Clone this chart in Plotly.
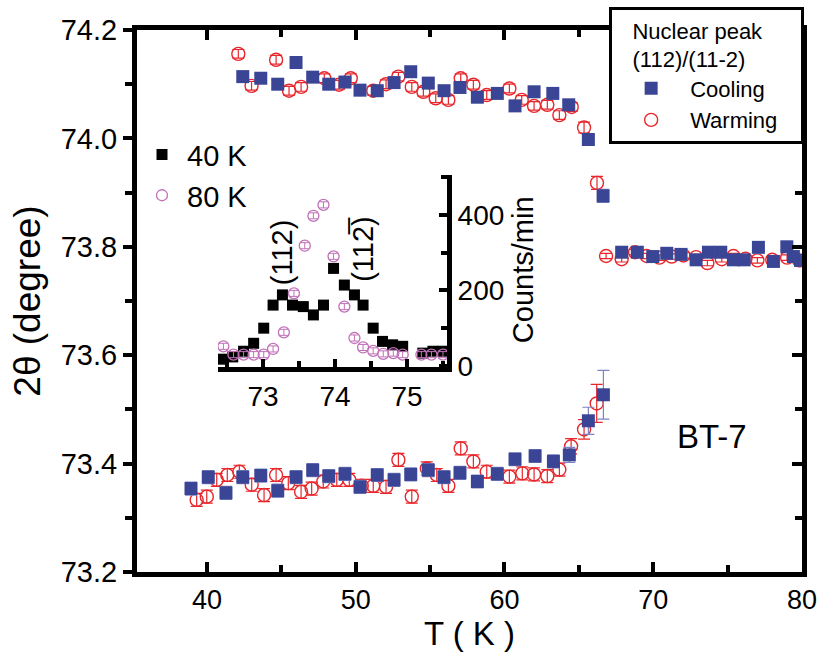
import plotly.graph_objects as go

# ---------------- main panel data ----------------
cool_T = [42.41, 43.62, 44.76, 45.99, 47.11, 48.19, 49.28, 50.29, 51.45, 52.58, 53.70,
          54.88, 55.94, 57.01, 58.18, 59.52, 60.71, 61.99, 63.25, 64.32, 65.64, 66.63,
          67.88, 68.93, 69.97, 70.91, 71.87, 72.88, 73.71, 74.54, 75.39, 76.11, 77.07,
          78.08, 78.98, 79.42, 79.90]
cool_2t = [74.114, 74.111, 74.100, 74.140, 74.113, 74.100, 74.104, 74.089, 74.088, 74.103,
           74.123, 74.102, 74.088, 74.094, 74.076, 74.083, 74.060, 74.086, 74.083, 74.062,
           73.998, 73.894, 73.790, 73.790, 73.782, 73.788, 73.786, 73.776, 73.790, 73.790,
           73.776, 73.776, 73.799, 73.773, 73.800, 73.782, 73.775]
cool_err = [0.008] * 20 + [0.010, 0.012] + [0.006] * 15

warm_T = [42.11, 43.00, 44.65, 45.52, 46.33, 47.89, 48.88, 49.67, 51.18, 52.04, 52.87,
          53.77, 54.55, 55.38, 56.23, 57.06, 57.91, 58.81, 60.33, 61.16, 61.99, 62.88,
          63.69, 64.52, 65.35, 66.22, 66.83, 67.88, 68.78, 69.56, 70.41, 71.24, 72.03,
          72.88, 73.64, 74.61, 75.39, 76.20, 77.00, 78.00, 79.00, 79.80]
warm_2t = [74.156, 74.097, 74.145, 74.088, 74.095, 74.111, 74.099, 74.111, 74.088, 74.100,
           74.114, 74.095, 74.086, 74.074, 74.071, 74.111, 74.099, 74.080, 74.092, 74.071,
           74.060, 74.062, 74.043, 74.058, 74.020, 73.918, 73.783, 73.777, 73.790, 73.783,
           73.780, 73.782, 73.784, 73.781, 73.770, 73.777, 73.783, 73.778, 73.775, 73.776,
           73.780, 73.775]
warm_err = [0.008] * 24 + [0.010, 0.012] + [0.005] * 16

cool_lo_T = [38.93, 40.09, 41.28, 42.41, 43.62, 44.76, 45.99, 47.11, 48.19, 49.28, 50.29,
             51.45, 52.58, 53.70, 54.88, 55.94, 57.01, 58.18, 59.52, 60.71, 62.06, 63.29,
             64.36, 65.64, 66.65]
cool_lo_2t = [73.354, 73.375, 73.346, 73.375, 73.378, 73.350, 73.375, 73.388, 73.377, 73.381,
              73.357, 73.379, 73.370, 73.380, 73.388, 73.375, 73.383, 73.367, 73.381, 73.408,
              73.414, 73.404, 73.416, 73.479, 73.527]
cool_lo_err = [0.012] * 22 + [0.014, 0.025, 0.045]

warm_lo_T = [39.31, 39.99, 40.66, 41.37, 42.18, 43.01, 43.84, 44.65, 45.47, 46.33, 47.04,
             47.82, 48.73, 49.57, 50.41, 51.18, 52.04, 52.87, 53.77, 54.78, 55.45, 56.23,
             57.06, 57.91, 58.81, 60.33, 61.20, 61.99, 62.88, 63.69, 64.48, 65.35, 66.20]
warm_lo_2t = [73.333, 73.339, 73.370, 73.379, 73.385, 73.361, 73.342, 73.379, 73.364, 73.348,
              73.354, 73.367, 73.370, 73.370, 73.359, 73.359, 73.357, 73.407, 73.339, 73.391,
              73.379, 73.359, 73.428, 73.404, 73.385, 73.376, 73.382, 73.380, 73.377, 73.389,
              73.432, 73.463, 73.511]
warm_lo_err = [0.012] * 30 + [0.014, 0.018, 0.035]

# ---------------- inset data ----------------
k40_2t = [72.45, 72.58, 72.73, 72.87, 73.01, 73.14, 73.27, 73.41, 73.56, 73.70, 73.84,
          73.98, 74.13, 74.27, 74.39, 74.53, 74.66, 74.80, 74.94, 75.22, 75.36, 75.50]
k40_cnt = [18, 24, 39, 60, 100, 161, 188, 161, 157, 135, 161, 258, 214, 188, 161, 100,
           65, 56, 52, 34, 39, 39]
k80_2t = [72.45, 72.59, 72.73, 72.87, 73.01, 73.14, 73.29, 73.43, 73.58, 73.70, 73.84,
          73.98, 74.13, 74.27, 74.39, 74.53, 74.67, 74.81, 74.94, 75.20, 75.34, 75.50]
k80_cnt = [52, 30, 30, 30, 30, 45, 89, 192, 318, 397, 426, 290, 157, 74, 49, 40, 32, 34,
           30, 30, 30, 30]
k80_err = [8] * 22

BLUE = "#3b4595"
BLUE_ERR = "#7c83c2"
RED = "#e8262b"
PURPLE = "#c071b8"
FONT = "Liberation Sans, Arial, sans-serif"
NB = "\u00a0"

fig = go.Figure()

# main panel traces
fig.add_trace(go.Scatter(x=warm_T, y=warm_2t, mode="markers", name="Warming" + NB * 3,
                         marker=dict(symbol="circle-open", size=13, color=RED, line=dict(width=1.4)),
                         error_y=dict(type="data", array=warm_err, color=RED, thickness=1.2, width=6),
                         legend="legend"))
fig.add_trace(go.Scatter(x=warm_lo_T, y=warm_lo_2t, mode="markers", name="Warming",
                         marker=dict(symbol="circle-open", size=13, color=RED, line=dict(width=1.4)),
                         error_y=dict(type="data", array=warm_lo_err, color=RED, thickness=1.2, width=6),
                         showlegend=False))
fig.add_trace(go.Scatter(x=cool_T, y=cool_2t, mode="markers", name="Cooling",
                         marker=dict(symbol="square", size=13, color=BLUE),
                         error_y=dict(type="data", array=cool_err, color=BLUE_ERR, thickness=1.2, width=6),
                         legend="legend"))
fig.add_trace(go.Scatter(x=cool_lo_T, y=cool_lo_2t, mode="markers", name="Cooling",
                         marker=dict(symbol="square", size=13, color=BLUE),
                         error_y=dict(type="data", array=cool_lo_err, color=BLUE_ERR, thickness=1.2, width=6),
                         showlegend=False))

# inset traces
fig.add_trace(go.Scatter(x=k40_2t, y=k40_cnt, mode="markers", name="40 K", xaxis="x2", yaxis="y2",
                         marker=dict(symbol="square", size=11, color="black"),
                         legend="legend2", legendgroup="a"))
fig.add_trace(go.Scatter(x=k80_2t, y=k80_cnt, mode="markers", name="80 K", xaxis="x2", yaxis="y2",
                         marker=dict(symbol="circle-open", size=11, color=PURPLE, line=dict(width=1.3)),
                         error_y=dict(type="data", array=k80_err, color=PURPLE, thickness=1, width=4),
                         legend="legend2", legendgroup="b"))

# dummy traces for mirrored tick axes
fig.add_trace(go.Scatter(x=[], y=[], xaxis="x3", yaxis="y", showlegend=False))
fig.add_trace(go.Scatter(x=[], y=[], xaxis="x", yaxis="y3", showlegend=False))

ax_common = dict(showgrid=False, zeroline=False, linecolor="black", linewidth=5,
                 tickcolor="black", tickwidth=3.5)
mnr = dict(tickcolor="black", tickwidth=3.5)

fig.update_layout(
    width=819, height=657,
    margin=dict(l=137, r=17, t=30, b=85, autoexpand=False),
    paper_bgcolor="white", plot_bgcolor="white",
    font=dict(family=FONT, color="black"),
    xaxis=dict(**ax_common, range=[35.3, 80], dtick=10, tick0=0, ticks="inside", ticklen=10,
               showline=True, mirror=True,
               minor=dict(dtick=5, ticks="inside", ticklen=7, **mnr),
               tickfont=dict(size=27, family=FONT),
               title=dict(text="T ( K )", font=dict(size=33, family=FONT), standoff=8),
               domain=[0, 1]),
    yaxis=dict(**ax_common, range=[73.2, 74.2], dtick=0.2, tick0=73.2, ticks="outside", ticklen=9,
               tickformat=".1f", showline=True, mirror=True,
               minor=dict(dtick=0.1, ticks="outside", ticklen=7, **mnr),
               tickfont=dict(size=29, family=FONT),
               title=dict(text="2θ (degree)", font=dict(size=37, family=FONT), standoff=10),
               domain=[0, 1]),
    xaxis3=dict(**ax_common, range=[35.3, 80], dtick=10, tick0=0, ticks="inside", ticklen=10,
                overlaying="x", side="top", anchor="y", showticklabels=False, showline=False,
                minor=dict(dtick=5, ticks="inside", ticklen=7, **mnr)),
    yaxis3=dict(**ax_common, range=[73.2, 74.2], dtick=0.2, tick0=73.2, ticks="inside", ticklen=10,
                overlaying="y", side="right", anchor="x", showticklabels=False, showline=False,
                minor=dict(dtick=0.1, ticks="inside", ticklen=7, **mnr)),
    xaxis2=dict(**ax_common, domain=[0.1218, 0.4662], anchor="y2", range=[72.375, 75.556],
                dtick=1, tick0=73, ticks="inside", ticklen=8, showline=True,
                minor=dict(dtick=0.5, ticks="inside", ticklen=6, **mnr),
                tickfont=dict(size=28, family=FONT)),
    yaxis2=dict(**ax_common, domain=[0.378, 0.7325], anchor="x2", side="right", range=[-3, 505],
                dtick=200, tick0=0, ticks="inside", ticklen=8, showline=True,
                minor=dict(dtick=100, ticks="inside", ticklen=6, **mnr),
                tickfont=dict(size=28, family=FONT)),
    legend=dict(x=0.71, y=1.042, xanchor="left", yanchor="top",
                bgcolor="white", bordercolor="black", borderwidth=3,
                font=dict(size=22, family=FONT), itemwidth=68,
                title=dict(text=NB * 3 + "Nuclear peak<br>" + NB * 3 + "(112)/(11-2)",
                           font=dict(size=22, family=FONT)),
                traceorder="reversed", tracegroupgap=0),
    legend2=dict(x=0.0, y=0.817, xanchor="left", yanchor="top", bgcolor="rgba(0,0,0,0)",
                 borderwidth=0, font=dict(size=29, family=FONT), itemwidth=40,
                 tracegroupgap=0),
)

# text annotations
fig.add_annotation(x=73.96, y=73.45, xref="x", yref="y", text="BT-7", showarrow=False,
                   font=dict(size=33, family=FONT))
fig.add_annotation(x=74.0, y=-127, xref="x2", yref="y2", text="2θ", showarrow=False,
                   font=dict(size=28, family=FONT))
fig.add_annotation(x=1.332, y=0.505, xref="x2 domain", yref="y2 domain", text="Counts/min",
                   xanchor="center", yanchor="middle",
                   showarrow=False, textangle=-90, font=dict(size=29, family=FONT))
fig.add_annotation(x=73.26, y=300, xref="x2", yref="y2", text="(112)", showarrow=False,
                   textangle=-90, font=dict(size=29, family=FONT))
fig.add_annotation(x=74.39, y=310, xref="x2", yref="y2", text="(112\u0305)", showarrow=False,
                   textangle=-90, font=dict(size=29, family=FONT))

fig.write_html("out.html")
